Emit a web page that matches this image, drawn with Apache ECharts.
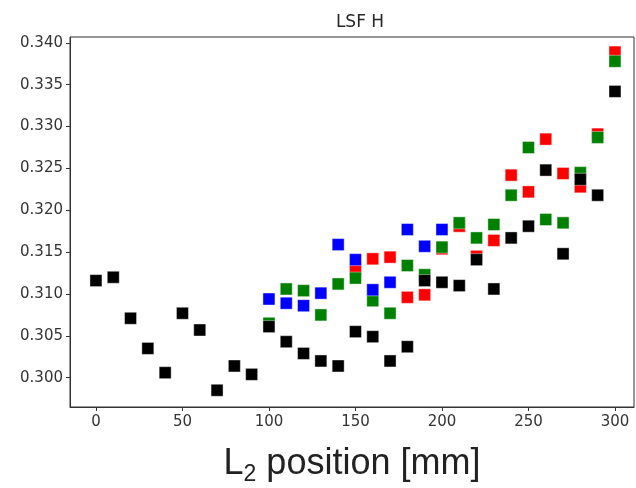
<!DOCTYPE html>
<html><head><meta charset="utf-8">
<script src="https://cdn.jsdelivr.net/npm/echarts@6/dist/echarts.min.js"></script>
<style>html,body{margin:0;padding:0;background:#fff}#c{width:636px;height:488px}</style>
</head><body><div id="c"></div>
<script>
const xBlack = [0,10,20,30,40,50,60,70,80,90,100,110,120,130,140,150,160,170,180,190,200,210,220,230,240,250,260,270,280,290,300];
const yBlack = [0.3116,0.3120,0.3071,0.3035,0.3006,0.3077,0.3057,0.2985,0.3014,0.3004,0.3061,0.3043,0.3029,0.3020,0.3014,0.3055,0.3049,0.3020,0.3037,0.3116,0.3114,0.3110,0.3141,0.3106,0.3167,0.3181,0.3248,0.3148,0.3237,0.3218,0.3342];
const xBlue = [100,110,120,130,140,150,160,170,180,190,200];
const yBlue = [0.3094,0.3089,0.3086,0.3101,0.3159,0.3141,0.3105,0.3114,0.3177,0.3157,0.3177];
const xGreen = [100,110,120,130,140,150,160,170,180,190,200,210,220,230,240,250,260,270,280,290,300];
const yGreen = [0.3065,0.3106,0.3104,0.3075,0.3112,0.3119,0.3092,0.3077,0.3134,0.3123,0.3156,0.3185,0.3167,0.3183,0.3218,0.3275,0.3189,0.3185,0.3245,0.3287,0.3378];
const xRed = [150,160,170,180,190,200,210,220,230,240,250,260,270,280,290,300];
const yRed = [0.3130,0.3142,0.3144,0.3096,0.3099,0.3154,0.3181,0.3145,0.3164,0.3242,0.3222,0.3285,0.3244,0.3228,0.3291,0.3389];
const xTicks = [0,50,100,150,200,250,300];
const yTicks = [0.300,0.305,0.310,0.315,0.320,0.325,0.330,0.335,0.340];
const titleText = 'LSF H';

const zip = (xs, ys) => xs.map((x, i) => [x, ys[i]]);
const mk = (name, xs, ys, color, z) => ({
  name, type: 'scatter', data: zip(xs, ys), symbol: 'rect', symbolSize: 12, z,
  itemStyle: { color, opacity: 1, borderColor: 'rgba(255,255,255,0.7)', borderWidth: 0.6 },
  emphasis: { disabled: true }
});
const chart = echarts.init(document.getElementById('c'), null, { renderer: 'canvas' });
chart.setOption({
  animation: false,
  backgroundColor: '#fff',
  title: { text: titleText, left: 355, top: 9, textAlign: 'center',
    textStyle: { fontFamily: 'DejaVu Sans', fontSize: 17, fontWeight: 'normal', color: '#262626' } },
  grid: { left: 70, right: 2, top: 37, bottom: 81, show: true, borderColor: '#333', borderWidth: 1,
    backgroundColor: 'transparent', containLabel: false, outerBoundsMode: 'none' },
  xAxis: {
    type: 'value', min: -15, max: 311,
    splitLine: { show: false },
    axisLine: { show: true, onZero: false, lineStyle: { color: '#333' } },
    axisTick: { show: true, length: 4, customValues: xTicks, lineStyle: { color: '#333' } },
    axisLabel: { customValues: xTicks, margin: 8, fontFamily: 'DejaVu Sans', fontSize: 15, color: '#333' },
    name: '{a|L}{s|2}{a| position [mm]}',
    nameLocation: 'middle', nameGap: 39,
    nameTextStyle: { rich: {
      a: { fontFamily: 'Liberation Sans', fontSize: 36, lineHeight: 40, color: '#222', verticalAlign: 'top', padding: [0, 0, 7, 0] },
      s: { fontFamily: 'Liberation Sans', fontSize: 23, lineHeight: 26, color: '#222', verticalAlign: 'bottom' }
    } }
  },
  yAxis: {
    type: 'value', min: 0.2965, max: 0.3407,
    splitLine: { show: false },
    axisLine: { show: true, onZero: false, lineStyle: { color: '#333' } },
    axisTick: { show: true, length: 4, customValues: yTicks, lineStyle: { color: '#333' } },
    axisLabel: { customValues: yTicks, margin: 7, fontFamily: 'DejaVu Sans', fontSize: 15, color: '#333',
      formatter: v => v.toFixed(3) }
  },
  series: [
    mk('red', xRed, yRed, '#ff0000', 2),
    mk('green', xGreen, yGreen, '#008000', 3),
    mk('black', xBlack, yBlack, '#000000', 4),
    mk('blue', xBlue, yBlue, '#0000ff', 5)
  ]
});
</script></body></html>
